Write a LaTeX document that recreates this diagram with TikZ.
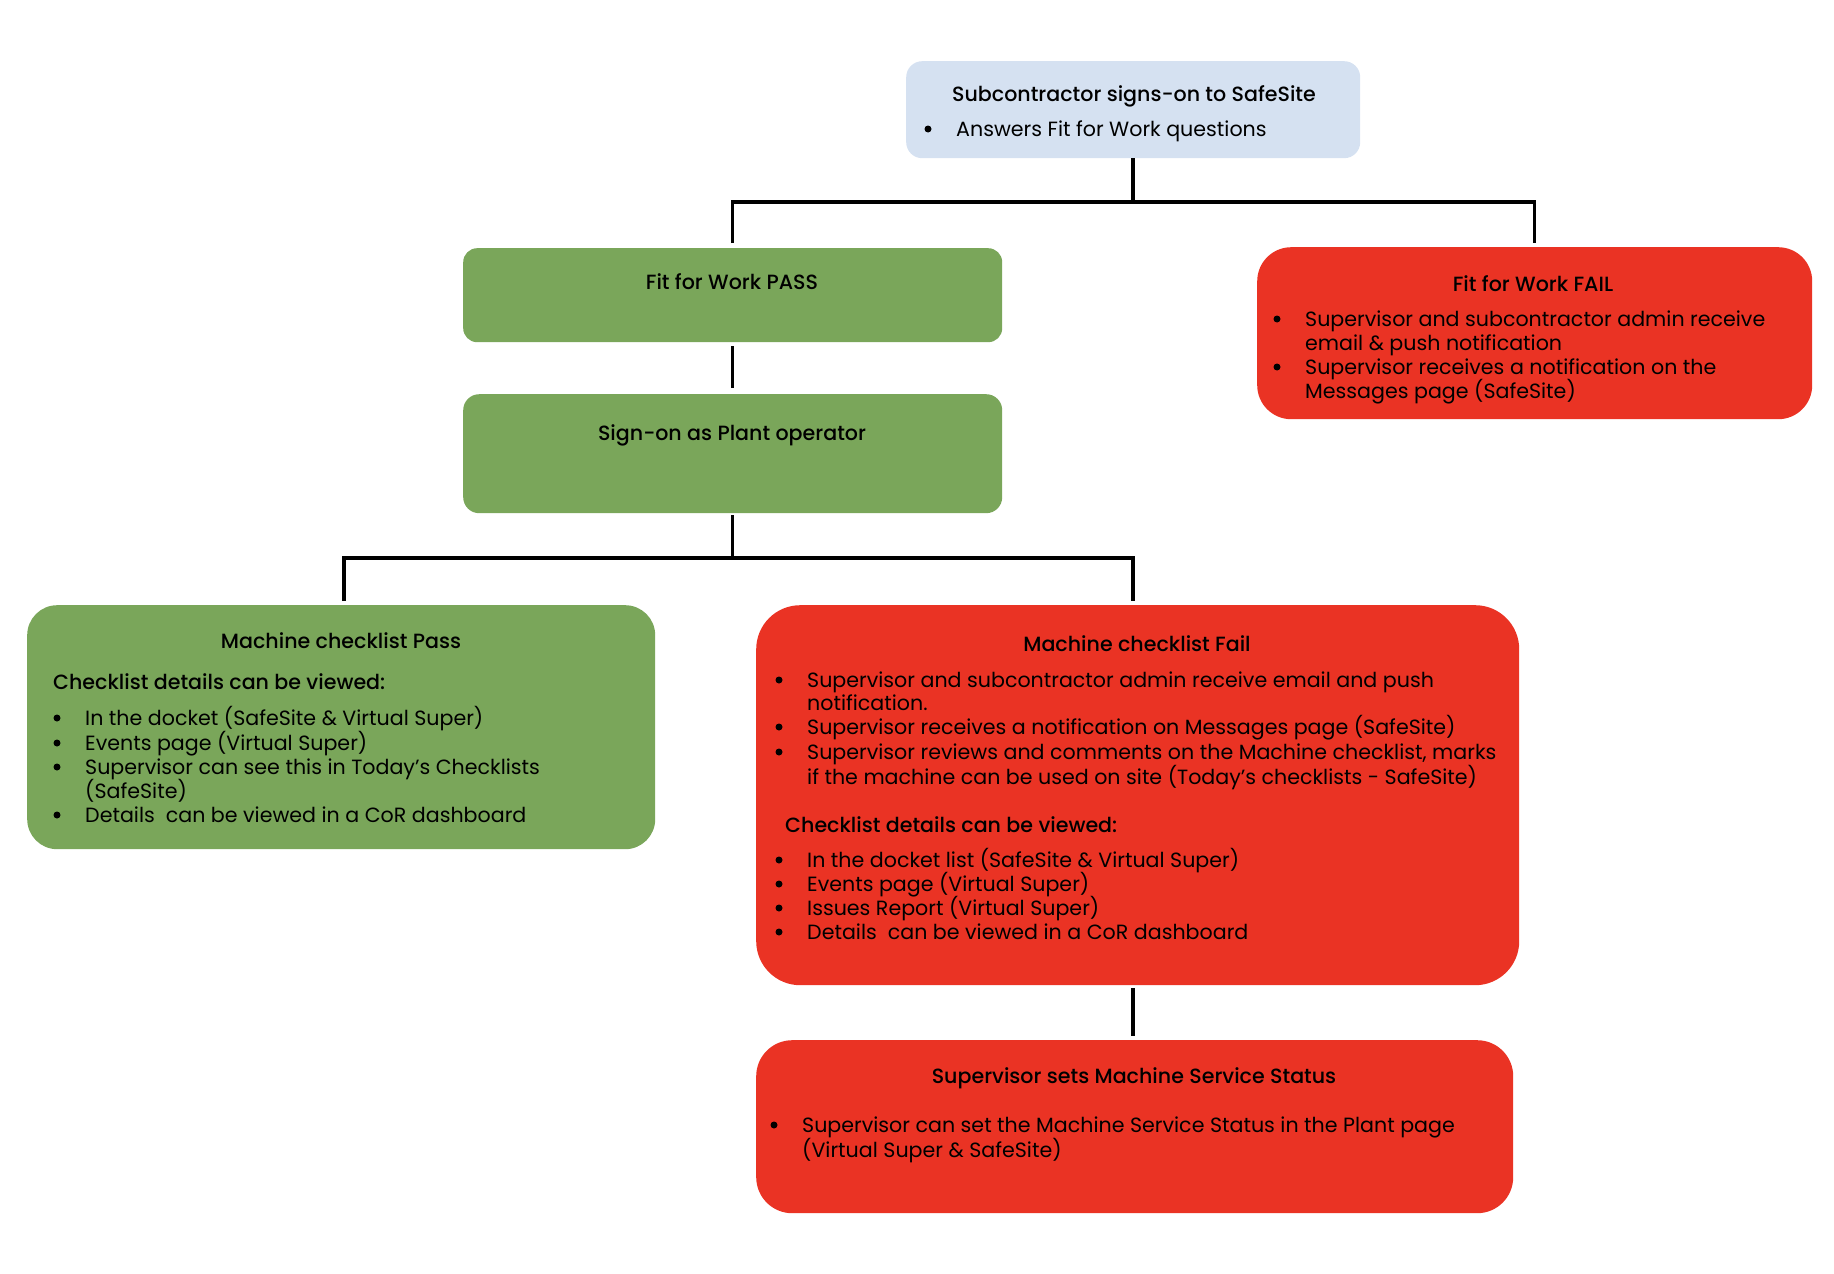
\documentclass[tikz,border=0pt]{standalone}
\usepackage{fontspec}
\setmainfont{Poppins}
\IfFontExistsTF{Poppins Medium}{\newfontfamily\tfont{Poppins Medium}}{\newcommand\tfont{\bfseries}}
\definecolor{cblue}{RGB}{213,225,241}
\definecolor{cgreen}{RGB}{122,166,90}
\definecolor{cred}{RGB}{234,51,36}
\newcommand\bitem[4]{\node[bul] (#1-b) at (#2-28,#3) {}; \node[txt] (#1) at (#2,#3) {#4};}
\newcommand\litem[4]{\node[txt] (#1) at (#2,#3) {#4};}
\begin{document}
\begin{tikzpicture}[x=1pt,y=-1pt,
  every node/.style={font=\fontsize{20.6}{24}\selectfont},
  box/.style={draw=none, inner sep=0pt, anchor=north west},
  title/.style={font=\fontsize{20.6}{24}\selectfont\tfont, inner sep=0pt, anchor=mid, yshift=-5pt},
  head/.style={font=\fontsize{20.6}{24}\selectfont\tfont, inner sep=0pt, anchor=mid west, yshift=-5pt},
  txt/.style={inner sep=0pt, anchor=mid west, yshift=-5pt},
  bul/.style={circle, fill=black, inner sep=0pt, minimum size=7pt},
  conn/.style={draw=black, line width=3.4pt}]
\useasboundingbox (0,0) rectangle (1834,1274);

% boxes
\node[box, fill=cblue, rounded corners=16pt, minimum width=454pt, minimum height=97pt] (top) at (906,61) {};
\node[box, fill=cgreen, rounded corners=14pt, minimum width=539pt, minimum height=94pt] (pass) at (463,248) {};
\node[box, fill=cgreen, rounded corners=16pt, minimum width=539pt, minimum height=119pt] (sign) at (463,394) {};
\node[box, fill=cred, rounded corners=34pt, minimum width=555pt, minimum height=172pt] (fail) at (1257,247) {};
\node[box, fill=cgreen, rounded corners=30pt, minimum width=628pt, minimum height=244pt] (mpass) at (27,605) {};
\node[box, fill=cred, rounded corners=44pt, minimum width=763pt, minimum height=380pt] (mfail) at (756,605) {};
\node[box, fill=cred, rounded corners=36pt, minimum width=757pt, minimum height=173pt] (serv) at (756,1040) {};

% connectors
\coordinate (j1) at (1133,202);
\coordinate (j2) at (sign.south |- 0,558);
\coordinate (xm) at (1133,0);
\draw[conn] (top.south -| j1) -- (j1);
\draw[conn] ([yshift=5pt]pass.north) |- (j1) -| ([yshift=4pt]fail.north);
\draw[conn] ([yshift=-4pt]pass.south) -- ([yshift=6pt]sign.north);
\draw[conn] ([yshift=-2pt]sign.south) -- (j2);
\draw[conn] ([yshift=4pt]mpass.north -| 344,0) |- (j2) -| ([yshift=4pt]mfail.north -| xm);
\draw[conn] ([yshift=-3pt]mfail.south -| xm) -- ([yshift=4pt]serv.north -| xm);

% top
\node[title] (t0) at (1134,94) {Subcontractor signs-on to SafeSite};
\bitem{t0a}{956}{129}{Answers Fit for Work questions}

% pass / sign-on
\node[title] (t1) at (732,282) {Fit for Work PASS};
\node[title] (t2) at (732,433) {Sign-on as Plant operator};

% fail
\node[title] (t3) at (1533,284) {Fit for Work FAIL};
\bitem{f1}{1305}{319}{Supervisor and subcontractor admin receive}
\litem{f2}{1305}{343}{email \& push notification}
\bitem{f3}{1305}{367}{Supervisor receives a notification on the}
\litem{f4}{1305}{391}{Messages page (SafeSite)}

% machine pass
\node[title] (t4) at (341,641) {Machine checklist Pass};
\node[head] (h4) at (53,682) {Checklist details can be viewed:};
\bitem{p1}{85}{718}{In the docket (SafeSite \& Virtual Super)}
\bitem{p2}{85}{743}{Events page (Virtual Super)}
\bitem{p3}{85}{767}{Supervisor can see this in Today’s Checklists}
\litem{p4}{85}{791}{(SafeSite)}
\bitem{p5}{85}{815}{Details\ \ can be viewed in a CoR dashboard}

% machine fail
\node[title] (t5) at (1137,644) {Machine checklist Fail};
\bitem{m1}{807}{680}{Supervisor and subcontractor admin receive email and push}
\litem{m2}{807}{703}{notification.}
\bitem{m3}{807}{727}{Supervisor receives a notification on Messages page (SafeSite)}
\bitem{m4}{807}{752}{Supervisor reviews and comments on the Machine checklist, marks}
\litem{m5}{807}{777}{if the machine can be used on site (Today’s checklists - SafeSite)}
\node[head] (h5) at (785,825) {Checklist details can be viewed:};
\bitem{m6}{807}{860}{In the docket list (SafeSite \& Virtual Super)}
\bitem{m7}{807}{884}{Events page (Virtual Super)}
\bitem{m8}{807}{908}{Issues Report (Virtual Super)}
\bitem{m9}{807}{932}{Details\ \ can be viewed in a CoR dashboard}

% service
\node[title] (t6) at (1134,1076) {Supervisor sets Machine Service Status};
\bitem{s1}{802}{1125}{Supervisor can set the Machine Service Status in the Plant page}
\litem{s2}{802}{1150}{(Virtual Super \& SafeSite)}
\end{tikzpicture}
\end{document}
